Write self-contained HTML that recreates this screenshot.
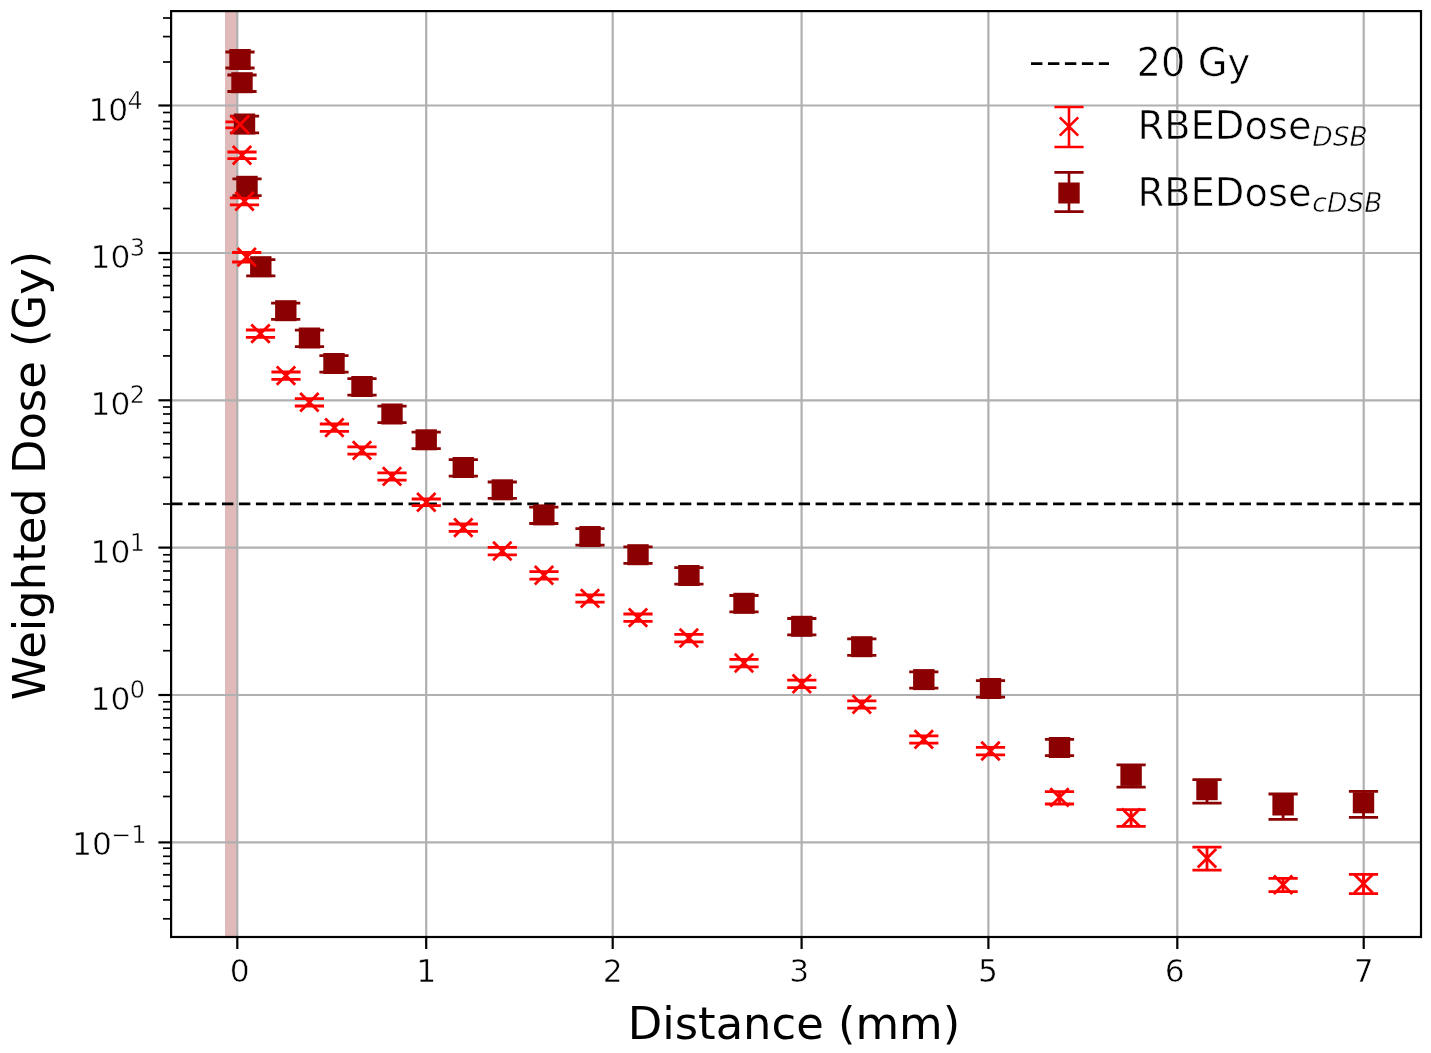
<!DOCTYPE html>
<html lang="en"><head><meta charset="utf-8"><title>Weighted Dose vs Distance</title>
<style>html,body{margin:0;padding:0;background:#fff;overflow:hidden}svg{display:block;filter:blur(0.55px)}text{font-family:"DejaVu Sans","Liberation Sans",sans-serif;fill:#000}.tk{font-size:31.3px;stroke:#fff;stroke-width:.55px}.sp{font-size:24px}.ax{font-size:44.8px}.lg{font-size:38.4px;stroke:#fff;stroke-width:.6px}.sb{font-size:26.5px;font-style:italic}</style></head>
<body>
<svg width="1431" height="1053" viewBox="0 0 1431 1053">
<rect width="1431" height="1053" fill="#fff"/>
<rect x="225" y="11.1" width="12.5" height="925.9" fill="#e0b9b9"/>
<g stroke="#b0b0b0" stroke-width="2.2" fill="none">
<line x1="237.3" y1="11.1" x2="237.3" y2="937.0"/>
<line x1="426.2" y1="11.1" x2="426.2" y2="937.0"/>
<line x1="612.7" y1="11.1" x2="612.7" y2="937.0"/>
<line x1="801.6" y1="11.1" x2="801.6" y2="937.0"/>
<line x1="988.4" y1="11.1" x2="988.4" y2="937.0"/>
<line x1="1177.3" y1="11.1" x2="1177.3" y2="937.0"/>
<line x1="1363.7" y1="11.1" x2="1363.7" y2="937.0"/>
<line x1="171.1" y1="105.5" x2="1421.0" y2="105.5"/>
<line x1="171.1" y1="253" x2="1421.0" y2="253"/>
<line x1="171.1" y1="400.3" x2="1421.0" y2="400.3"/>
<line x1="171.1" y1="547.6" x2="1421.0" y2="547.6"/>
<line x1="171.1" y1="695" x2="1421.0" y2="695"/>
<line x1="171.1" y1="842.4" x2="1421.0" y2="842.4"/>
</g>
<line x1="171.1" y1="503.9" x2="1421.0" y2="503.9" stroke="#000" stroke-width="2.8" stroke-dasharray="11.4 5.56"/>
<g stroke="#8b0000" stroke-width="2.8" fill="none">
<path d="M240.0 52.0V68.0M225.4 52.0h29.2M225.4 68.0h29.2"/>
<path d="M242.0 75.0V91.5M227.4 75.0h29.2M227.4 91.5h29.2"/>
<path d="M244.5 116.2V132.8M229.9 116.2h29.2M229.9 132.8h29.2"/>
<path d="M247.0 178.9V195.6M232.4 178.9h29.2M232.4 195.6h29.2"/>
<path d="M260.8 259.6V275.8M246.2 259.6h29.2M246.2 275.8h29.2"/>
<path d="M285.8 303.2V319.4M271.1 303.2h29.2M271.1 319.4h29.2"/>
<path d="M309.5 330.2V346.6M294.9 330.2h29.2M294.9 346.6h29.2"/>
<path d="M334.0 355.7V372.1M319.4 355.7h29.2M319.4 372.1h29.2"/>
<path d="M362.0 378.7V395.1M347.4 378.7h29.2M347.4 395.1h29.2"/>
<path d="M392.0 406.2V422.6M377.4 406.2h29.2M377.4 422.6h29.2"/>
<path d="M426.2 432.2V448.6M411.6 432.2h29.2M411.6 448.6h29.2"/>
<path d="M463.3 459.7V476.1M448.7 459.7h29.2M448.7 476.1h29.2"/>
<path d="M502.3 482.0V498.4M487.7 482.0h29.2M487.7 498.4h29.2"/>
<path d="M543.8 507.1V523.5M529.2 507.1h29.2M529.2 523.5h29.2"/>
<path d="M590.0 528.7V545.1M575.4 528.7h29.2M575.4 545.1h29.2"/>
<path d="M638.0 546.9V563.3M623.4 546.9h29.2M623.4 563.3h29.2"/>
<path d="M688.9 567.7V584.1M674.3 567.7h29.2M674.3 584.1h29.2"/>
<path d="M744.0 595.5V611.9M729.4 595.5h29.2M729.4 611.9h29.2"/>
<path d="M801.8 618.5V634.9M787.2 618.5h29.2M787.2 634.9h29.2"/>
<path d="M861.8 638.9V655.3M847.2 638.9h29.2M847.2 655.3h29.2"/>
<path d="M923.8 671.8V688.2M909.2 671.8h29.2M909.2 688.2h29.2"/>
<path d="M990.5 680.7V697.1M975.9 680.7h29.2M975.9 697.1h29.2"/>
<path d="M1059.5 739.3V755.7M1044.9 739.3h29.2M1044.9 755.7h29.2"/>
<path d="M1131.1 764.8V787.2M1116.5 764.8h29.2M1116.5 787.2h29.2"/>
<path d="M1207.0 779.7V803.2M1192.4 779.7h29.2M1192.4 803.2h29.2"/>
<path d="M1283.1 794.0V819.4M1268.5 794.0h29.2M1268.5 819.4h29.2"/>
<path d="M1363.5 791.4V817.4M1348.9 791.4h29.2M1348.9 817.4h29.2"/>
</g>
<g stroke="#ff0000" stroke-width="2.8" fill="none">
<path d="M240.0 121.8V127.8M225.4 121.8h29.2M225.4 127.8h29.2"/>
<path d="M242.0 152.0V158.6M227.4 152.0h29.2M227.4 158.6h29.2"/>
<path d="M244.5 197.8V204.8M229.9 197.8h29.2M229.9 204.8h29.2"/>
<path d="M246.7 252.5V262.0M232.1 252.5h29.2M232.1 262.0h29.2"/>
<path d="M260.5 330.0V337.4M245.9 330.0h29.2M245.9 337.4h29.2"/>
<path d="M286.0 372.0V379.4M271.4 372.0h29.2M271.4 379.4h29.2"/>
<path d="M309.4 398.6V406.0M294.8 398.6h29.2M294.8 406.0h29.2"/>
<path d="M334.4 424.0V431.4M319.8 424.0h29.2M319.8 431.4h29.2"/>
<path d="M362.0 446.8V454.2M347.4 446.8h29.2M347.4 454.2h29.2"/>
<path d="M392.0 472.8V480.2M377.4 472.8h29.2M377.4 480.2h29.2"/>
<path d="M426.3 499.0V505.6M411.7 499.0h29.2M411.7 505.6h29.2"/>
<path d="M463.3 524.0V531.4M448.7 524.0h29.2M448.7 531.4h29.2"/>
<path d="M502.3 547.4V554.8M487.7 547.4h29.2M487.7 554.8h29.2"/>
<path d="M544.0 571.7V579.1M529.4 571.7h29.2M529.4 579.1h29.2"/>
<path d="M590.0 594.8V602.2M575.4 594.8h29.2M575.4 602.2h29.2"/>
<path d="M638.0 614.0V621.4M623.4 614.0h29.2M623.4 621.4h29.2"/>
<path d="M688.9 634.4V641.8M674.3 634.4h29.2M674.3 641.8h29.2"/>
<path d="M744.0 659.4V666.8M729.4 659.4h29.2M729.4 666.8h29.2"/>
<path d="M801.8 680.2V687.6M787.2 680.2h29.2M787.2 687.6h29.2"/>
<path d="M861.8 700.8V708.2M847.2 700.8h29.2M847.2 708.2h29.2"/>
<path d="M923.8 735.8V743.2M909.2 735.8h29.2M909.2 743.2h29.2"/>
<path d="M990.5 747.4V754.8M975.9 747.4h29.2M975.9 754.8h29.2"/>
<path d="M1059.5 791.6V804.0M1044.9 791.6h29.2M1044.9 804.0h29.2"/>
<path d="M1131.1 809.6V826.4M1116.5 809.6h29.2M1116.5 826.4h29.2"/>
<path d="M1207.0 847.2V870.2M1192.4 847.2h29.2M1192.4 870.2h29.2"/>
<path d="M1283.1 878.4V891.6M1268.5 878.4h29.2M1268.5 891.6h29.2"/>
<path d="M1363.5 874.4V893.6M1348.9 874.4h29.2M1348.9 893.6h29.2"/>
</g>
<g fill="#8b0000">
<rect x="229.3" y="49.0" width="21.4" height="21"/>
<rect x="231.3" y="72.2" width="21.4" height="21"/>
<rect x="233.8" y="113.5" width="21.4" height="21"/>
<rect x="236.3" y="175.8" width="21.4" height="21"/>
<rect x="250.1" y="256.2" width="21.4" height="21"/>
<rect x="275.1" y="300.2" width="21.4" height="21"/>
<rect x="298.8" y="327.5" width="21.4" height="21"/>
<rect x="323.3" y="353.0" width="21.4" height="21"/>
<rect x="351.3" y="376.0" width="21.4" height="21"/>
<rect x="381.3" y="403.5" width="21.4" height="21"/>
<rect x="415.5" y="429.3" width="21.4" height="21"/>
<rect x="452.6" y="457.0" width="21.4" height="21"/>
<rect x="491.6" y="479.3" width="21.4" height="21"/>
<rect x="533.1" y="504.4" width="21.4" height="21"/>
<rect x="579.3" y="526.0" width="21.4" height="21"/>
<rect x="627.3" y="544.2" width="21.4" height="21"/>
<rect x="678.2" y="565.0" width="21.4" height="21"/>
<rect x="733.3" y="592.8" width="21.4" height="21"/>
<rect x="791.1" y="615.8" width="21.4" height="21"/>
<rect x="851.1" y="636.2" width="21.4" height="21"/>
<rect x="913.1" y="669.1" width="21.4" height="21"/>
<rect x="979.8" y="678.0" width="21.4" height="21"/>
<rect x="1048.8" y="737.0" width="21.4" height="21"/>
<rect x="1120.4" y="764.9" width="21.4" height="21"/>
<rect x="1196.3" y="779.2" width="21.4" height="21"/>
<rect x="1272.4" y="794.5" width="21.4" height="21"/>
<rect x="1352.8" y="792.3" width="21.4" height="21"/>
</g>
<g stroke="#ff0000" stroke-width="2.8" fill="none">
<path d="M230.8 115.4l18.4 18.4M230.8 133.8l18.4 -18.4"/>
<path d="M232.8 146.0l18.4 18.4M232.8 164.4l18.4 -18.4"/>
<path d="M235.3 192.1l18.4 18.4M235.3 210.5l18.4 -18.4"/>
<path d="M237.5 247.9l18.4 18.4M237.5 266.3l18.4 -18.4"/>
<path d="M251.3 324.4l18.4 18.4M251.3 342.8l18.4 -18.4"/>
<path d="M276.8 366.4l18.4 18.4M276.8 384.8l18.4 -18.4"/>
<path d="M300.2 393.0l18.4 18.4M300.2 411.4l18.4 -18.4"/>
<path d="M325.2 418.4l18.4 18.4M325.2 436.8l18.4 -18.4"/>
<path d="M352.8 441.2l18.4 18.4M352.8 459.6l18.4 -18.4"/>
<path d="M382.8 467.2l18.4 18.4M382.8 485.6l18.4 -18.4"/>
<path d="M417.1 493.0l18.4 18.4M417.1 511.4l18.4 -18.4"/>
<path d="M454.1 518.4l18.4 18.4M454.1 536.8l18.4 -18.4"/>
<path d="M493.1 541.8l18.4 18.4M493.1 560.2l18.4 -18.4"/>
<path d="M534.8 566.1l18.4 18.4M534.8 584.5l18.4 -18.4"/>
<path d="M580.8 589.2l18.4 18.4M580.8 607.6l18.4 -18.4"/>
<path d="M628.8 608.4l18.4 18.4M628.8 626.8l18.4 -18.4"/>
<path d="M679.7 628.8l18.4 18.4M679.7 647.2l18.4 -18.4"/>
<path d="M734.8 653.8l18.4 18.4M734.8 672.2l18.4 -18.4"/>
<path d="M792.6 674.6l18.4 18.4M792.6 693.0l18.4 -18.4"/>
<path d="M852.6 695.2l18.4 18.4M852.6 713.6l18.4 -18.4"/>
<path d="M914.6 730.2l18.4 18.4M914.6 748.6l18.4 -18.4"/>
<path d="M981.3 741.8l18.4 18.4M981.3 760.2l18.4 -18.4"/>
<path d="M1050.3 788.2l18.4 18.4M1050.3 806.6l18.4 -18.4"/>
<path d="M1121.9 808.4l18.4 18.4M1121.9 826.8l18.4 -18.4"/>
<path d="M1197.8 849.0l18.4 18.4M1197.8 867.4l18.4 -18.4"/>
<path d="M1273.9 875.6l18.4 18.4M1273.9 894.0l18.4 -18.4"/>
<path d="M1354.3 874.4l18.4 18.4M1354.3 892.8l18.4 -18.4"/>
</g>
<rect x="171.1" y="11.1" width="1249.9" height="925.9" fill="none" stroke="#000" stroke-width="2.2"/>
<g stroke="#000" stroke-width="2.2">
<line x1="237.3" y1="937.0" x2="237.3" y2="949"/>
<line x1="426.2" y1="937.0" x2="426.2" y2="949"/>
<line x1="612.7" y1="937.0" x2="612.7" y2="949"/>
<line x1="801.6" y1="937.0" x2="801.6" y2="949"/>
<line x1="988.4" y1="937.0" x2="988.4" y2="949"/>
<line x1="1177.3" y1="937.0" x2="1177.3" y2="949"/>
<line x1="1363.7" y1="937.0" x2="1363.7" y2="949"/>
<line x1="158.4" y1="105.5" x2="171.1" y2="105.5"/>
<line x1="158.4" y1="253" x2="171.1" y2="253"/>
<line x1="158.4" y1="400.3" x2="171.1" y2="400.3"/>
<line x1="158.4" y1="547.6" x2="171.1" y2="547.6"/>
<line x1="158.4" y1="695" x2="171.1" y2="695"/>
<line x1="158.4" y1="842.4" x2="171.1" y2="842.4"/>
</g><g stroke="#000" stroke-width="1.7">
<line x1="163" y1="918.8" x2="171.1" y2="918.8"/>
<line x1="163" y1="899.9" x2="171.1" y2="899.9"/>
<line x1="163" y1="886.3" x2="171.1" y2="886.3"/>
<line x1="163" y1="874.9" x2="171.1" y2="874.9"/>
<line x1="163" y1="863.6" x2="171.1" y2="863.6"/>
<line x1="163" y1="856.3" x2="171.1" y2="856.3"/>
<line x1="163" y1="848.2" x2="171.1" y2="848.2"/>
<line x1="163" y1="796.5" x2="171.1" y2="796.5"/>
<line x1="163" y1="772.2" x2="171.1" y2="772.2"/>
<line x1="163" y1="753.8" x2="171.1" y2="753.8"/>
<line x1="163" y1="739.5" x2="171.1" y2="739.5"/>
<line x1="163" y1="727.8" x2="171.1" y2="727.8"/>
<line x1="163" y1="717.9" x2="171.1" y2="717.9"/>
<line x1="163" y1="709.4" x2="171.1" y2="709.4"/>
<line x1="163" y1="701.8" x2="171.1" y2="701.8"/>
<line x1="163" y1="650.7" x2="171.1" y2="650.7"/>
<line x1="163" y1="624.8" x2="171.1" y2="624.8"/>
<line x1="163" y1="604.8" x2="171.1" y2="604.8"/>
<line x1="163" y1="591.5" x2="171.1" y2="591.5"/>
<line x1="163" y1="580.0" x2="171.1" y2="580.0"/>
<line x1="163" y1="571.0" x2="171.1" y2="571.0"/>
<line x1="163" y1="561.5" x2="171.1" y2="561.5"/>
<line x1="163" y1="554.8" x2="171.1" y2="554.8"/>
<line x1="163" y1="504.0" x2="171.1" y2="504.0"/>
<line x1="163" y1="477.4" x2="171.1" y2="477.4"/>
<line x1="163" y1="457.5" x2="171.1" y2="457.5"/>
<line x1="163" y1="443.8" x2="171.1" y2="443.8"/>
<line x1="163" y1="432.5" x2="171.1" y2="432.5"/>
<line x1="163" y1="423.2" x2="171.1" y2="423.2"/>
<line x1="163" y1="414.0" x2="171.1" y2="414.0"/>
<line x1="163" y1="407.0" x2="171.1" y2="407.0"/>
<line x1="163" y1="355.9" x2="171.1" y2="355.9"/>
<line x1="163" y1="330.0" x2="171.1" y2="330.0"/>
<line x1="163" y1="311.6" x2="171.1" y2="311.6"/>
<line x1="163" y1="297.3" x2="171.1" y2="297.3"/>
<line x1="163" y1="285.6" x2="171.1" y2="285.6"/>
<line x1="163" y1="275.7" x2="171.1" y2="275.7"/>
<line x1="163" y1="267.2" x2="171.1" y2="267.2"/>
<line x1="163" y1="259.6" x2="171.1" y2="259.6"/>
<line x1="163" y1="208.5" x2="171.1" y2="208.5"/>
<line x1="163" y1="182.6" x2="171.1" y2="182.6"/>
<line x1="163" y1="165.3" x2="171.1" y2="165.3"/>
<line x1="163" y1="151.6" x2="171.1" y2="151.6"/>
<line x1="163" y1="139.6" x2="171.1" y2="139.6"/>
<line x1="163" y1="128.5" x2="171.1" y2="128.5"/>
<line x1="163" y1="121.6" x2="171.1" y2="121.6"/>
<line x1="163" y1="112.5" x2="171.1" y2="112.5"/>
<line x1="163" y1="62.0" x2="171.1" y2="62.0"/>
<line x1="163" y1="36.6" x2="171.1" y2="36.6"/>
<line x1="163" y1="18.0" x2="171.1" y2="18.0"/>
</g>
<text class="tk" x="239.7" y="982" text-anchor="middle">0</text>
<text class="tk" x="426.2" y="982" text-anchor="middle">1</text>
<text class="tk" x="612.7" y="982" text-anchor="middle">2</text>
<text class="tk" x="799.2" y="982" text-anchor="middle">3</text>
<text class="tk" x="987.9" y="982" text-anchor="middle">5</text>
<text class="tk" x="1174.8" y="982" text-anchor="middle">6</text>
<text class="tk" x="1363.7" y="982" text-anchor="middle">7</text>
<text class="tk" x="88.4" y="120.5">10<tspan class="sp" dy="-11.8" dx="-0.8">4</tspan></text>
<text class="tk" x="90.6" y="267.6">10<tspan class="sp" dy="-11.8" dx="-0.8">3</tspan></text>
<text class="tk" x="90.6" y="415">10<tspan class="sp" dy="-11.8" dx="-0.8">2</tspan></text>
<text class="tk" x="90.6" y="562.5">10<tspan class="sp" dy="-11.8" dx="-0.8">1</tspan></text>
<text class="tk" x="90.6" y="709.6">10<tspan class="sp" dy="-11.8" dx="-0.8">0</tspan></text>
<text class="tk" x="72.0" y="855.2">10<tspan class="sp" dy="-11.8" dx="-0.8">−1</tspan></text>
<text class="ax" x="794" y="1039" text-anchor="middle">Distance (mm)</text>
<text class="ax" transform="translate(45 475.6) rotate(-90)" text-anchor="middle">Weighted Dose (Gy)</text>
<line x1="1031" y1="63.6" x2="1109" y2="63.6" stroke="#000" stroke-width="2.8" stroke-dasharray="11.4 5.56"/>
<text class="lg" x="1136.6" y="76.4">20 Gy</text>
<path d="M1069 107V147M1054.4 107h29.2M1054.4 147h29.2M1059.8 117.3l18.4 18.4M1059.8 135.7l18.4 -18.4" stroke="#ff0000" stroke-width="2.6" fill="none"/>
<text class="lg" x="1137.6" y="139">RBEDose<tspan class="sb" dy="6.7" dx="0.8">DSB</tspan></text>
<path d="M1069 172.4V211.6M1054.4 172.4h29.2M1054.4 211.6h29.2" stroke="#8b0000" stroke-width="2.6" fill="none"/>
<rect x="1058.3" y="182.5" width="21.4" height="21" fill="#8b0000"/>
<text class="lg" x="1137.6" y="205.6">RBEDose<tspan class="sb" dy="6.7" dx="0.8">cDSB</tspan></text>
</svg>
</body></html>
